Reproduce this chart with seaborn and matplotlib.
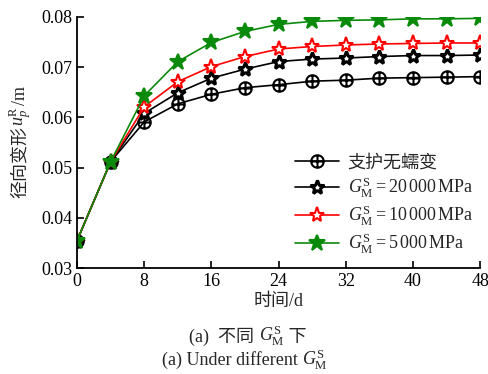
import pandas as pd
import matplotlib.pyplot as plt
import seaborn as sns
from matplotlib.path import Path

# dados
dias = [0, 4, 8, 12, 16, 20, 24, 28, 32, 36, 40, 44, 48]
sem_fluencia = [0.0355, 0.0512, 0.0591, 0.0627, 0.0646, 0.0659, 0.0665, 0.0672, 0.0674, 0.0678, 0.0679, 0.0680, 0.0681]
g_20000 = [0.0355, 0.0512, 0.0608, 0.0649, 0.0678, 0.0696, 0.0711, 0.0716, 0.0718, 0.0721, 0.0723, 0.0723, 0.0724]
g_10000 = [0.0355, 0.0512, 0.0621, 0.0671, 0.0701, 0.0721, 0.0736, 0.0741, 0.0744, 0.0746, 0.0747, 0.0748, 0.0748]
g_5000 = [0.0355, 0.0512, 0.0643, 0.0711, 0.0749, 0.0771, 0.0785, 0.0791, 0.0793, 0.0794, 0.0796, 0.0796, 0.0797]

rotulos = ['支护无蠕变',
           r'$G_{\rm M}^{\rm S}=20\,000\,{\rm MPa}$',
           r'$G_{\rm M}^{\rm S}=10\,000\,{\rm MPa}$',
           r'$G_{\rm M}^{\rm S}=5\,000\,{\rm MPa}$']

sns.set_style('ticks')
plt.rcParams['font.family'] = ['Liberation Serif', 'Noto Sans CJK SC']
plt.rcParams['mathtext.fontset'] = 'custom'
plt.rcParams['mathtext.rm'] = 'Liberation Serif'
plt.rcParams['mathtext.it'] = 'Liberation Serif:italic'
plt.rcParams['font.size'] = 13

# marcador círculo com cruz
circulo_cruz = Path.make_compound_path(
    Path.unit_circle(),
    Path([[-1, 0], [1, 0]], [Path.MOVETO, Path.LINETO]),
    Path([[0, -1], [0, 1]], [Path.MOVETO, Path.LINETO]),
)

fig = plt.figure(figsize=(4.88, 3.74), dpi=100)
ax = fig.add_axes([0.158, 0.283, 0.826, 0.672])

df = pd.DataFrame({'dia': dias, 's0': sem_fluencia, 's1': g_20000, 's2': g_10000, 's3': g_5000})

# (coluna, cor, marcador, preenchimento, borda, tamanho, espessura da borda)
estilos = [
    ('s0', 'black', circulo_cruz, 'none', 'black', 9, 1.5),
    ('s1', 'black', '*', 'white', 'black', 10, 2.2),
    ('s2', 'red', '*', 'white', 'red', 11, 1.5),
    ('s3', '#0a8a0a', '*', '#0a8a0a', '#0a8a0a', 12, 1.5),
]
for (col, cor, mk, fc, ec, ms, mew), lab in zip(estilos, rotulos):
    sns.lineplot(data=df, x='dia', y=col, ax=ax, color=cor, marker=mk, markersize=ms,
                 markerfacecolor=fc, markeredgecolor=ec, markeredgewidth=mew,
                 linewidth=1.2, label=lab)

ax.set_xlim(0, 48)
ax.set_ylim(0.03, 0.08)
ax.set_xticks(range(0, 49, 8))
ax.set_yticks([0.03, 0.04, 0.05, 0.06, 0.07, 0.08])
ax.set_yticklabels(['0.03', '0.04', '0.05', '0.06', '0.07', '0.08'])
ax.tick_params(direction='in', length=5, width=1.2, labelsize=13, colors='black')
for s in ['left', 'bottom']:
    ax.spines[s].set_linewidth(1.3)
    ax.spines[s].set_color('black')
sns.despine(ax=ax)
ax.set_xlabel('时间/d', fontsize=13, labelpad=2)
ax.set_ylabel('')

ax.legend(loc='lower right', bbox_to_anchor=(1.0, 0.02), frameon=False, fontsize=13,
          handlelength=2.4, handletextpad=0.5, labelspacing=0.2, borderaxespad=0)

# textos com chinês e mathtext: colocados em pedaços
renderer = fig.canvas.get_renderer()


def texto_em_pedacos(pedacos, x, y, vertical=False):
    # mede o comprimento total e centra em (x, y) (pixels)
    objs = []
    for p in pedacos:
        t = fig.text(0, 0, p, fontsize=13, rotation=90 if vertical else 0,
                     rotation_mode='anchor', ha='left', va='baseline', transform=None)
        objs.append(t)
    larg = []
    for t in objs:
        bb = t.get_window_extent(renderer)
        larg.append(bb.height if vertical else bb.width)
    pos = (y if vertical else x) - sum(larg) / 2
    for t, w in zip(objs, larg):
        if vertical:
            t.set_position((x, pos))
        else:
            t.set_position((pos, y))
        pos += w


H = 374
texto_em_pedacos(['径向变形', r'$u_p^{\rm R}$', '/m'], 25, H - 142, vertical=True)
texto_em_pedacos(['(a)  不同 ', r'$G_{\rm M}^{\rm S}$', ' 下'], 248, H - 342)
texto_em_pedacos(['(a) Under different ', r'$G_{\rm M}^{\rm S}$'], 245, H - 365)

plt.savefig('out.png', dpi=100)
